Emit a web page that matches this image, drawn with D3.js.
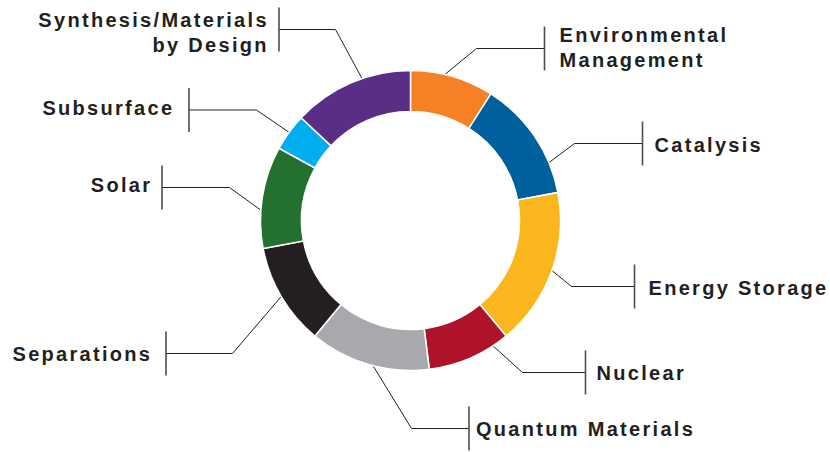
<!DOCTYPE html>
<html>
<head>
<meta charset="utf-8">
<script src="https://cdn.jsdelivr.net/npm/d3@7"></script>
<style>
  html, body { margin: 0; padding: 0; background: #fff; }
  svg text { font-family: "Liberation Sans", Arial, sans-serif; font-weight: bold; font-size: 20px; letter-spacing: 2.3px; fill: #231f20; }
</style>
</head>
<body>
<svg id="drawing_region"></svg>
<script>
// data (percent share of each research area, clockwise from 12 o'clock)
const categories = ['Environmental Management', 'Catalysis', 'Energy Storage', 'Nuclear',
    'Quantum Materials', 'Separations', 'Solar', 'Subsurface', 'Synthesis/Materials by Design'];
const values = [9, 13, 17, 9, 13, 11, 11, 4, 13];
const colors = ['#f58025', '#005f9d', '#fcb61d', '#ae1329', '#a7a9ac', '#231f20', '#23702f', '#00aeef', '#5a2d86'];
const labelLines = [['Environmental', 'Management'], ['Catalysis'], ['Energy Storage'], ['Nuclear'],
    ['Quantum Materials'], ['Separations'], ['Solar'], ['Subsurface'], ['Synthesis/Materials', 'by Design']];

// leader layout: t = where along the slice the leader starts, elbow/bar/text relative to centre
const leaders = [
    { t: 0.39, ex: 66, ey: -172, bx: 134, tx: 149, side: 'right', dy: [-7, 18] },
    { t: 0.75, ex: 164, ey: -77, bx: 232, tx: 244, side: 'right', dy: [8] },
    { t: 0.49, ex: 161, ey: 66, bx: 224, tx: 238, side: 'right', dy: [8.5] },
    { t: 0.20, ex: 112, ey: 152, bx: 175, tx: 186, side: 'right', dy: [7] },
    { t: 0.48, ex: 1, ey: 208, bx: 58.5, tx: 65.5, side: 'right', dy: [7] },
    { t: 0.51, ex: -178, ey: 133, bx: -244.5, tx: -260.5, side: 'left', dy: [7] },
    { t: 0.36, ex: -181, ey: -33, bx: -248.5, tx: -260.5, side: 'left', dy: [4.5] },
    { t: 0.50, ex: -154, ey: -110.5, bx: -221.5, tx: -238.5, side: 'left', dy: [5] },
    { t: 0.60, ex: -75, ey: -191, bx: -131.5, tx: -144, side: 'left', dy: [-3, 22.5] }
];

const config = { width: 830, height: 452, cx: 410.5, cy: 220.5, outer: 150, inner: 109 };

const data = categories.map((c, i) => ({ name: c, value: values[i], color: colors[i], lines: labelLines[i], lay: leaders[i] }));

const svg = d3.select('#drawing_region')
    .attr('width', config.width)
    .attr('height', config.height);

const chart = svg.append('g')
    .attr('transform', `translate(${config.cx}, ${config.cy})`);

const pie = d3.pie().value(d => d.value).sort(null);
const arc = d3.arc().innerRadius(config.inner).outerRadius(config.outer);
const arcs = pie(data);

// leaders first so the ring sits on top of their ends
const lead = chart.selectAll('g.leader')
    .data(arcs)
    .join('g')
    .attr('class', 'leader');

lead.append('polyline')
    .attr('points', d => {
        const L = d.data.lay;
        const a = d.startAngle + (d.endAngle - d.startAngle) * L.t;
        const r = config.outer - 2;
        const sx = Math.sin(a) * r, sy = -Math.cos(a) * r;
        return [[sx, sy], [L.ex, L.ey], [L.bx, L.ey]].map(p => p.join(',')).join(' ');
    })
    .attr('fill', 'none')
    .attr('stroke', '#231f20')
    .attr('stroke-width', 1);

lead.append('line')
    .attr('x1', d => d.data.lay.bx)
    .attr('x2', d => d.data.lay.bx)
    .attr('y1', d => d.data.lay.ey - 22)
    .attr('y2', d => d.data.lay.ey + 22)
    .attr('stroke', '#4d4d4f')
    .attr('stroke-width', 1.6);

// end-anchored text carries trailing letter-spacing, so nudge it right by that much
lead.each(function (d) {
    const L = d.data.lay;
    const g = d3.select(this);
    d.data.lines.forEach((s, i) => {
        g.append('text')
            .attr('x', L.side === 'left' ? L.tx + 2.3 : L.tx)
            .attr('y', L.ey + L.dy[i])
            .attr('text-anchor', L.side === 'left' ? 'end' : 'start')
            .text(s);
    });
});

chart.selectAll('path.slice')
    .data(arcs)
    .join('path')
    .attr('class', 'slice')
    .attr('d', arc)
    .attr('fill', d => d.data.color)
    .attr('stroke', '#fff')
    .attr('stroke-width', 1.5);
</script>
</body>
</html>
